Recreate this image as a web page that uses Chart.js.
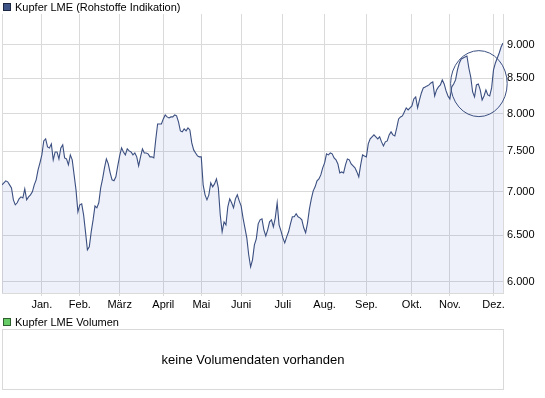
<!DOCTYPE html>
<html>
<head>
<meta charset="utf-8">
<script src="https://cdn.jsdelivr.net/npm/chart.js@4.4.1/dist/chart.umd.min.js"></script>
<style>
  body{margin:0;background:#fff;font-family:'Liberation Sans',Arial,sans-serif;}
  #wrap{position:relative;width:545px;height:398px;overflow:hidden;}
  #price{position:absolute;left:0;top:0;}
  .leg{position:absolute;left:3px;font-size:11px;line-height:13px;color:#000;white-space:nowrap;}
  .leg i{display:inline-block;width:6px;height:6px;border:1px solid #1c2640;margin-right:4px;vertical-align:-0px;}
  #volbox{position:absolute;left:2px;top:329px;width:502px;height:61px;box-sizing:border-box;border:1px solid #d9d9d9;
    font-size:13px;line-height:59px;text-align:center;color:#000;}
</style>
</head>
<body>
<div id="wrap">
  <canvas id="price" width="545" height="318"></canvas>
  <div class="leg" style="top:1px"><i style="background:#3f5587"></i>Kupfer LME (Rohstoffe Indikation)</div>
  <div class="leg" style="top:316px"><i style="background:#66cc66;border-color:#2f5f2f"></i>Kupfer LME Volumen</div>
  <div id="volbox">keine Volumendaten vorhanden</div>
</div>
<script>
/* Kupfer LME, USD/t, one value per trading day (Dez. 2009 - Dez. 2010) */
const prices = [
  7083,7107,7132,7120,7083,7047,6904,6845,6869,6916, 6939,6927,7035,6904,6939,6963,6999,7083,7144,7267,
  7355,7456,7637,7663,7559,7546,7598,7393,7494,7494, 7405,7546,7585,7418,7405,7330,7456,7393,7205,7023,
  6764,6845,6857,6729,6536,6338,6370,6536,6671,6833, 6810,6869,7047,7156,7292,7405,7342,7230,7144,7132,
  7181,7317,7443,7546,7494,7456,7533,7507,7494,7456, 7481,7431,7317,7431,7533,7481,7481,7469,7431,7431,
  7418,7650,7862,7862,7862,7930,7984,7957,7943,7957, 7957,7984,7971,7889,7769,7756,7795,7769,7809,7782,
  7611,7520,7481,7443,7431,7431,7083,6963,6904,6963, 7107,7059,7095,7156,7047,6729,6536,6648,6615,6822,
  6916,6869,6810,6916,6963,6892,6833,6694,6581,6469, 6284,6156,6230,6392,6458,6626,6671,6683,6558,6491,
  6558,6648,6671,6592,6694,6869,6615,6547,6469,6414, 6480,6536,6626,6706,6706,6741,6706,6694,6671,6581,
  6525,6637,6798,6916,7011,7059,7132,7156,7205,7292, 7355,7469,7456,7481,7469,7418,7393,7342,7230,7242,
  7230,7330,7405,7393,7342,7317,7292,7242,7181,7330, 7456,7443,7431,7598,7663,7690,7716,7690,7663,7690,
  7624,7572,7624,7637,7716,7756,7716,7703,7809,7930, 7957,7971,8025,8081,8053,8081,8108,8206,8234,8081,
  8192,8290,8362,8376,8391,8405,8434,8448,8248,8333, 8376,8405,8477,8419,8319,8248,8206,8376,8419,8477,
  8623,8727,8787,8802,8817,8832,8652,8520,8304,8234, 8405,8419,8333,8192,8248,8333,8262,8248,8362,8623,
  8727,8802,8877,8969,9031
];

/* first trading day of each month (index into prices) */
const monthStarts = [21, 41, 62, 85, 105, 126, 148, 170, 192, 216, 236, 259];
const monthLabels = ['Jan.', 'Feb.', 'März', 'April', 'Mai', 'Juni', 'Juli', 'Aug.', 'Sep.', 'Okt.', 'Nov.', 'Dez.'];
const yTicks = [6000, 6500, 7000, 7500, 8000, 8500, 9000];
const yRange = [5886, 9490];

/* the marked zone at the right (trading days / price) */
const markDays = [236.4, 266.2];
const markPrices = [7961, 8913];

const LINE = '#3b4f80';
const GRID = '#dadada';
const fmt = v => String(v).replace(/\B(?=(\d{3})+(?!\d))/g, '.');

const frame = {
  id: 'frame',
  beforeDatasetsDraw(chart){
    const {ctx, chartArea:a} = chart;
    ctx.save();
    ctx.strokeStyle = GRID; ctx.lineWidth = 1;
    ctx.beginPath(); ctx.moveTo(a.left + .5, a.top); ctx.lineTo(a.left + .5, a.bottom); ctx.stroke();
    ctx.restore();
  },
  afterDraw(chart){
    const {ctx, scales:{x, y}} = chart;
    const x0 = x.getPixelForValue(markDays[0]), x1 = x.getPixelForValue(markDays[1]);
    const y0 = y.getPixelForValue(markPrices[1]), y1 = y.getPixelForValue(markPrices[0]);
    ctx.save();
    ctx.strokeStyle = LINE; ctx.lineWidth = 1;
    ctx.beginPath();
    ctx.ellipse((x0 + x1) / 2, (y0 + y1) / 2, (x1 - x0) / 2, (y1 - y0) / 2, 0, 0, Math.PI * 2);
    ctx.stroke();
    ctx.restore();
  }
};

new Chart(document.getElementById('price'), {
  type: 'line',
  data: {datasets: [{
    data: prices.map((v, i) => ({x: i, y: v})),
    borderColor: LINE, borderWidth: 1.1, pointRadius: 0, tension: 0,
    fill: 'start', backgroundColor: 'rgba(85,115,205,0.1)'
  }]},
  options: {
    responsive: false, animation: false, devicePixelRatio: 1,
    layout: {padding: {left: 2, top: 14, right: 0, bottom: 0}},
    plugins: {legend: {display: false}, tooltip: {enabled: false}},
    scales: {
      x: {
        type: 'linear', min: 0, max: prices.length - 1,
        afterBuildTicks: s => { s.ticks = monthStarts.map(v => ({value: v})); },
        afterFit: s => { s.height = 25; },
        grid: {color: GRID, tickLength: 3, drawTicks: true},
        border: {color: GRID},
        ticks: {padding: 2, autoSkip: false, maxRotation: 0, color: '#000',
          font: {family: "'Liberation Sans',Arial,sans-serif", size: 11},
          callback: (v, i) => monthLabels[i]}
      },
      y: {
        type: 'logarithmic', position: 'right', min: yRange[0], max: yRange[1],
        afterBuildTicks: s => { s.ticks = yTicks.map(v => ({value: v})); },
        afterFit: s => { s.width = 42; },
        grid: {color: GRID, drawTicks: false},
        border: {color: GRID},
        ticks: {padding: 4, color: '#000',
          font: {family: "'Liberation Sans',Arial,sans-serif", size: 11},
          callback: v => fmt(v)}
      }
    }
  },
  plugins: [frame]
});
</script>
</body>
</html>
